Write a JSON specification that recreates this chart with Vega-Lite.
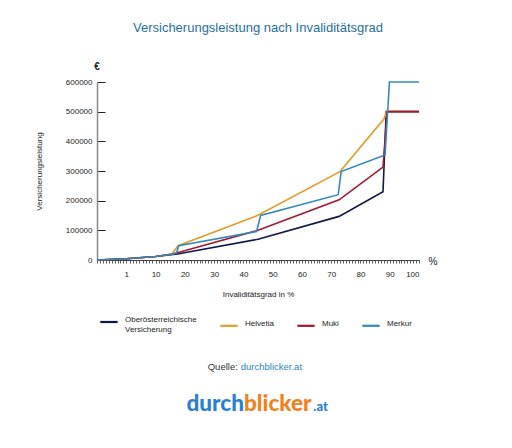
{
  "$schema": "https://vega.github.io/schema/vega-lite/v6.json",
  "width": 322,
  "height": 178,
  "autosize": {"type": "none"},
  "padding": {"left": 97, "top": 82, "right": 93, "bottom": 188},
  "background": "white",
  "title": {
    "text": "Versicherungsleistung nach Invaliditätsgrad",
    "font": "Liberation Sans",
    "fontSize": 13,
    "fontWeight": "normal",
    "color": "#1f6fa3",
    "anchor": "middle",
    "offset": 27
  },
  "config": {
    "view": {"stroke": null},
    "font": "Liberation Sans"
  },
  "data": {
    "values": [
      {"g": "Oberösterreichische Versicherung", "x": 0, "y": 0},
      {"g": "Oberösterreichische Versicherung", "x": 1, "y": 4000},
      {"g": "Oberösterreichische Versicherung", "x": 10, "y": 12000},
      {"g": "Oberösterreichische Versicherung", "x": 17.5, "y": 20000},
      {"g": "Oberösterreichische Versicherung", "x": 45, "y": 70000},
      {"g": "Oberösterreichische Versicherung", "x": 72.7, "y": 147000},
      {"g": "Oberösterreichische Versicherung", "x": 87.7, "y": 230000},
      {"g": "Oberösterreichische Versicherung", "x": 88.8, "y": 500000},
      {"g": "Oberösterreichische Versicherung", "x": 100, "y": 500000},
      {"g": "Helvetia", "x": 0, "y": 0},
      {"g": "Helvetia", "x": 1, "y": 4000},
      {"g": "Helvetia", "x": 10, "y": 12000},
      {"g": "Helvetia", "x": 15.5, "y": 20000},
      {"g": "Helvetia", "x": 17.7, "y": 48000},
      {"g": "Helvetia", "x": 44.8, "y": 150000},
      {"g": "Helvetia", "x": 73, "y": 298000},
      {"g": "Helvetia", "x": 88, "y": 475000},
      {"g": "Helvetia", "x": 88.9, "y": 500000},
      {"g": "Helvetia", "x": 100, "y": 500000},
      {"g": "Muki", "x": 0, "y": 0},
      {"g": "Muki", "x": 1, "y": 4000},
      {"g": "Muki", "x": 10, "y": 12000},
      {"g": "Muki", "x": 16, "y": 20000},
      {"g": "Muki", "x": 17.7, "y": 25000},
      {"g": "Muki", "x": 45, "y": 100000},
      {"g": "Muki", "x": 72.7, "y": 203000},
      {"g": "Muki", "x": 87.7, "y": 313000},
      {"g": "Muki", "x": 89.1, "y": 500000},
      {"g": "Muki", "x": 100, "y": 500000},
      {"g": "Merkur", "x": 0, "y": 0},
      {"g": "Merkur", "x": 1, "y": 4000},
      {"g": "Merkur", "x": 10, "y": 12000},
      {"g": "Merkur", "x": 16, "y": 20000},
      {"g": "Merkur", "x": 17.2, "y": 25000},
      {"g": "Merkur", "x": 17.9, "y": 48000},
      {"g": "Merkur", "x": 44.5, "y": 96000},
      {"g": "Merkur", "x": 45.9, "y": 150000},
      {"g": "Merkur", "x": 72.4, "y": 220000},
      {"g": "Merkur", "x": 73.4, "y": 298000},
      {"g": "Merkur", "x": 88.4, "y": 354000},
      {"g": "Merkur", "x": 89.9, "y": 600000},
      {"g": "Merkur", "x": 100, "y": 600000}
    ]
  },
  "layer": [
    {
      "mark": {"type": "line", "strokeWidth": 1.6, "clip": false},
      "encoding": {
        "x": {
          "field": "x",
          "type": "quantitative",
          "scale": {"domain": [0, 1, 10, 100], "range": [0, 29.3, 58.6, 322], "nice": false, "zero": false},
          "axis": {
            "values": [0, 0.1, 0.2, 0.3, 0.4, 0.5, 0.6, 0.7, 0.8, 0.9, 1, 2, 3, 4, 5, 6, 7, 8, 9, 10, 11, 12, 13, 14, 15, 16, 17, 18, 19, 20, 21, 22, 23, 24, 25, 26, 27, 28, 29, 30, 31, 32, 33, 34, 35, 36, 37, 38, 39, 40, 41, 42, 43, 44, 45, 46, 47, 48, 49, 50, 51, 52, 53, 54, 55, 56, 57, 58, 59, 60, 61, 62, 63, 64, 65, 66, 67, 68, 69, 70, 71, 72, 73, 74, 75, 76, 77, 78, 79, 80, 81, 82, 83, 84, 85, 86, 87, 88, 89, 90, 91, 92, 93, 94, 95, 96, 97, 98, 99, 100],
            "tickCount": 500,
            "labelExpr": "(datum.value == 1 || (datum.value > 0 && datum.value % 10 == 0)) ? toString(datum.value) : ''",
            "labelOverlap": false,
            "labelFont": "Liberation Sans",
            "labelFontSize": 8,
            "labelColor": "#222222",
            "labelPadding": 7,
            "tickSize": 3,
            "tickColor": "#333333",
            "tickWidth": 0.8,
            "domainColor": "#444444",
            "domainWidth": 1,
            "grid": false,
            "title": "Invaliditätsgrad in %",
            "titleFont": "Liberation Sans",
            "titleFontSize": 8,
            "titleFontWeight": "normal",
            "titleColor": "#222222",
            "titlePadding": 12
          }
        },
        "y": {
          "field": "y",
          "type": "quantitative",
          "scale": {"domain": [0, 600000], "nice": false},
          "axis": {
            "values": [0, 100000, 200000, 300000, 400000, 500000, 600000],
            "tickCount": 20,
            "format": "d",
            "labelOverlap": false,
            "labelFont": "Liberation Sans",
            "labelFontSize": 8,
            "labelColor": "#222222",
            "labelPadding": 13,
            "tickSize": -8,
            "tickColor": "#222222",
            "tickWidth": 1,
            "domainColor": "#888888",
            "domainWidth": 1.5,
            "grid": false,
            "title": "Versicherungsleistung",
            "titleFont": "Liberation Sans",
            "titleFontSize": 8,
            "titleFontWeight": "normal",
            "titleColor": "#222222",
            "titlePadding": 22
          }
        },
        "color": {
          "field": "g",
          "type": "nominal",
          "scale": {
            "domain": ["Oberösterreichische Versicherung", "Helvetia", "Muki", "Merkur"],
            "range": ["#101848", "#e39b2a", "#a3192f", "#3389bd"]
          },
          "legend": {
            "title": null,
            "orient": "none",
            "direction": "horizontal",
            "columns": 4,
            "legendX": 2,
            "legendY": 230,
            "columnPadding": 18,
            "symbolType": "stroke",
            "symbolSize": 300,
            "symbolStrokeWidth": 2.2,
            "labelFont": "Liberation Sans",
            "labelFontSize": 8,
            "labelColor": "#222222",
            "labelOffset": 6,
            "labelLimit": 200,
            "labelBaseline": "alphabetic",
            "labelExpr": "datum.label == 'Oberösterreichische Versicherung' ? ['Oberösterreichische', 'Versicherung'] : datum.label"
          }
        }
      }
    },
    {
      "data": {"values": [{}]},
      "mark": {"type": "text", "text": "€", "font": "Liberation Sans", "fontSize": 10, "fontWeight": "bold", "color": "#222222", "align": "center", "baseline": "middle"},
      "encoding": {
        "x": {"datum": 0, "type": "quantitative"},
        "y": {"datum": 650000, "type": "quantitative"}
      }
    },
    {
      "data": {"values": [{}]},
      "mark": {"type": "text", "text": "%", "font": "Liberation Sans", "fontSize": 10, "color": "#222222", "align": "center", "baseline": "middle", "dy": 2},
      "encoding": {
        "x": {"datum": 104.8, "type": "quantitative"},
        "y": {"datum": 0, "type": "quantitative"}
      }
    },
    {
      "data": {"values": [{}]},
      "mark": {"type": "text", "text": "Quelle:", "font": "Liberation Sans", "fontSize": 9.5, "color": "#333333", "align": "right", "baseline": "middle"},
      "encoding": {
        "x": {"datum": 38.1, "type": "quantitative"},
        "y": {"datum": -360000, "type": "quantitative"}
      }
    },
    {
      "data": {"values": [{}]},
      "mark": {"type": "text", "text": "durchblicker.at", "font": "Liberation Sans", "fontSize": 9.5, "color": "#2a86b8", "align": "left", "baseline": "middle"},
      "encoding": {
        "x": {"datum": 39.1, "type": "quantitative"},
        "y": {"datum": -360000, "type": "quantitative"}
      }
    },
    {
      "data": {"values": [{}]},
      "mark": {"type": "text", "text": "durch", "font": "Lato", "fontSize": 22.5, "fontWeight": 900, "color": "#2b7fd0", "align": "right", "baseline": "middle"},
      "encoding": {
        "x": {"datum": 40.2, "type": "quantitative"},
        "y": {"datum": -485000, "type": "quantitative"}
      }
    },
    {
      "data": {"values": [{}]},
      "mark": {"type": "text", "text": "blicker", "font": "Lato", "fontSize": 22.5, "fontWeight": 900, "color": "#f0821e", "align": "left", "baseline": "middle"},
      "encoding": {
        "x": {"datum": 40.2, "type": "quantitative"},
        "y": {"datum": -485000, "type": "quantitative"}
      }
    },
    {
      "data": {"values": [{}]},
      "mark": {"type": "text", "text": ".at", "font": "Lato", "fontSize": 13, "fontWeight": 900, "color": "#2b7fd0", "align": "left", "baseline": "middle", "dy": 3},
      "encoding": {
        "x": {"datum": 63.9, "type": "quantitative"},
        "y": {"datum": -485000, "type": "quantitative"}
      }
    }
  ]
}
